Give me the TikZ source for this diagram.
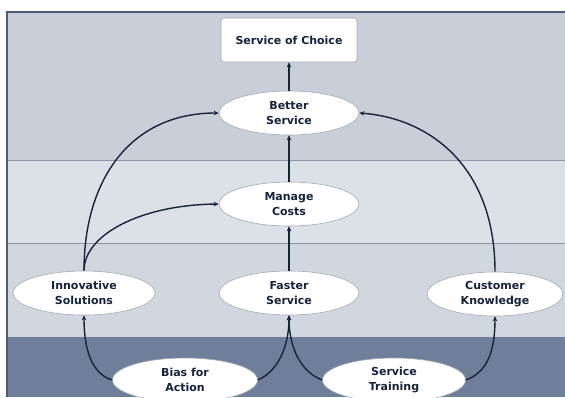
\documentclass[tikz,border=0pt]{standalone}
\usepackage{fontspec}
\setmainfont{DejaVu Sans}
\usetikzlibrary{shapes.geometric,arrows.meta}
\definecolor{bandA}{HTML}{C9CFD9}
\definecolor{bandB}{HTML}{DCE0E7}
\definecolor{bandC}{HTML}{D2D7DF}
\definecolor{bandD}{HTML}{6F7F99}
\definecolor{sepline}{HTML}{8E97A5}
\definecolor{framec}{HTML}{4E5B70}
\definecolor{ink}{HTML}{17223B}
\definecolor{nodeedge}{HTML}{A3AAB4}
\tikzset{
  oval/.style={ellipse, draw=nodeedge, line width=0.6pt, fill=white,
    minimum width=140pt, minimum height=44pt, inner sep=0pt,
    align=center, text=ink, font=\fontsize{11}{15}\selectfont\bfseries},
  goalbox/.style={rectangle, rounded corners=3pt, draw=nodeedge, line width=0.6pt,
    fill=white, minimum width=136pt, minimum height=44pt, inner sep=0pt,
    text=ink, font=\fontsize{11}{15}\selectfont\bfseries},
  link/.style={draw=ink, line width=1.4pt, -{Stealth[length=5pt,width=4.5pt]}}
}
\begin{document}
\begin{tikzpicture}[x=1pt,y=-1pt]
\useasboundingbox (0,0) rectangle (565,397);
\fill[white] (0,0) rectangle (565,397);
% bands
\fill[bandA] (7,12) rectangle (565,160);
\fill[bandB] (7,160) rectangle (565,243);
\fill[bandC] (7,243) rectangle (565,337);
\fill[bandD] (7,337) rectangle (565,397);
\draw[sepline, line width=0.8pt] (7,160) -- (565,160);
\draw[sepline, line width=0.8pt] (7,243) -- (565,243);
% frame
\draw[framec, line width=2pt] (7,397) -- (7,12) -- (565,12);
% nodes
\node[goalbox] (soc) at (289,40) {Service of Choice};
\node[oval] (better) at (289,113) {Better\\Service};
\node[oval] (manage) at (289,204) {Manage\\Costs};
\node[oval, minimum width=142pt] (innov) at (84,293) {Innovative\\Solutions};
\node[oval] (faster) at (289,293) {Faster\\Service};
\node[oval, minimum width=136pt] (cust) at (495,294) {Customer\\Knowledge};
\node[oval, minimum width=145pt] (bias) at (185,380) {Bias for\\Action};
\node[oval, minimum width=143pt] (train) at (394,380) {Service\\Training};
% straight links
\draw[link] (better.north) -- (soc.south);
\draw[link] (manage.north) -- (better.south);
\draw[link] (faster.north) -- (manage.south);
% curved links
\draw[link] (innov.north) .. controls (84,180) and (130,113) .. (better.west);
\draw[link] (innov.north) .. controls (84,235) and (140,205) .. (manage.west);
\draw[link] (cust.north) .. controls (495,165) and (428,118) .. (better.east);
\draw[link] (bias.west) .. controls (92,374) and (84,350) .. (innov.south);
\draw[link] (bias.east) .. controls (277,372) and (289,348) .. (faster.south);
\draw[link] (train.west) .. controls (301,372) and (289,348) .. (faster.south);
\draw[link] (train.east) .. controls (488,372) and (495,350) .. (cust.south);
\end{tikzpicture}
\end{document}
